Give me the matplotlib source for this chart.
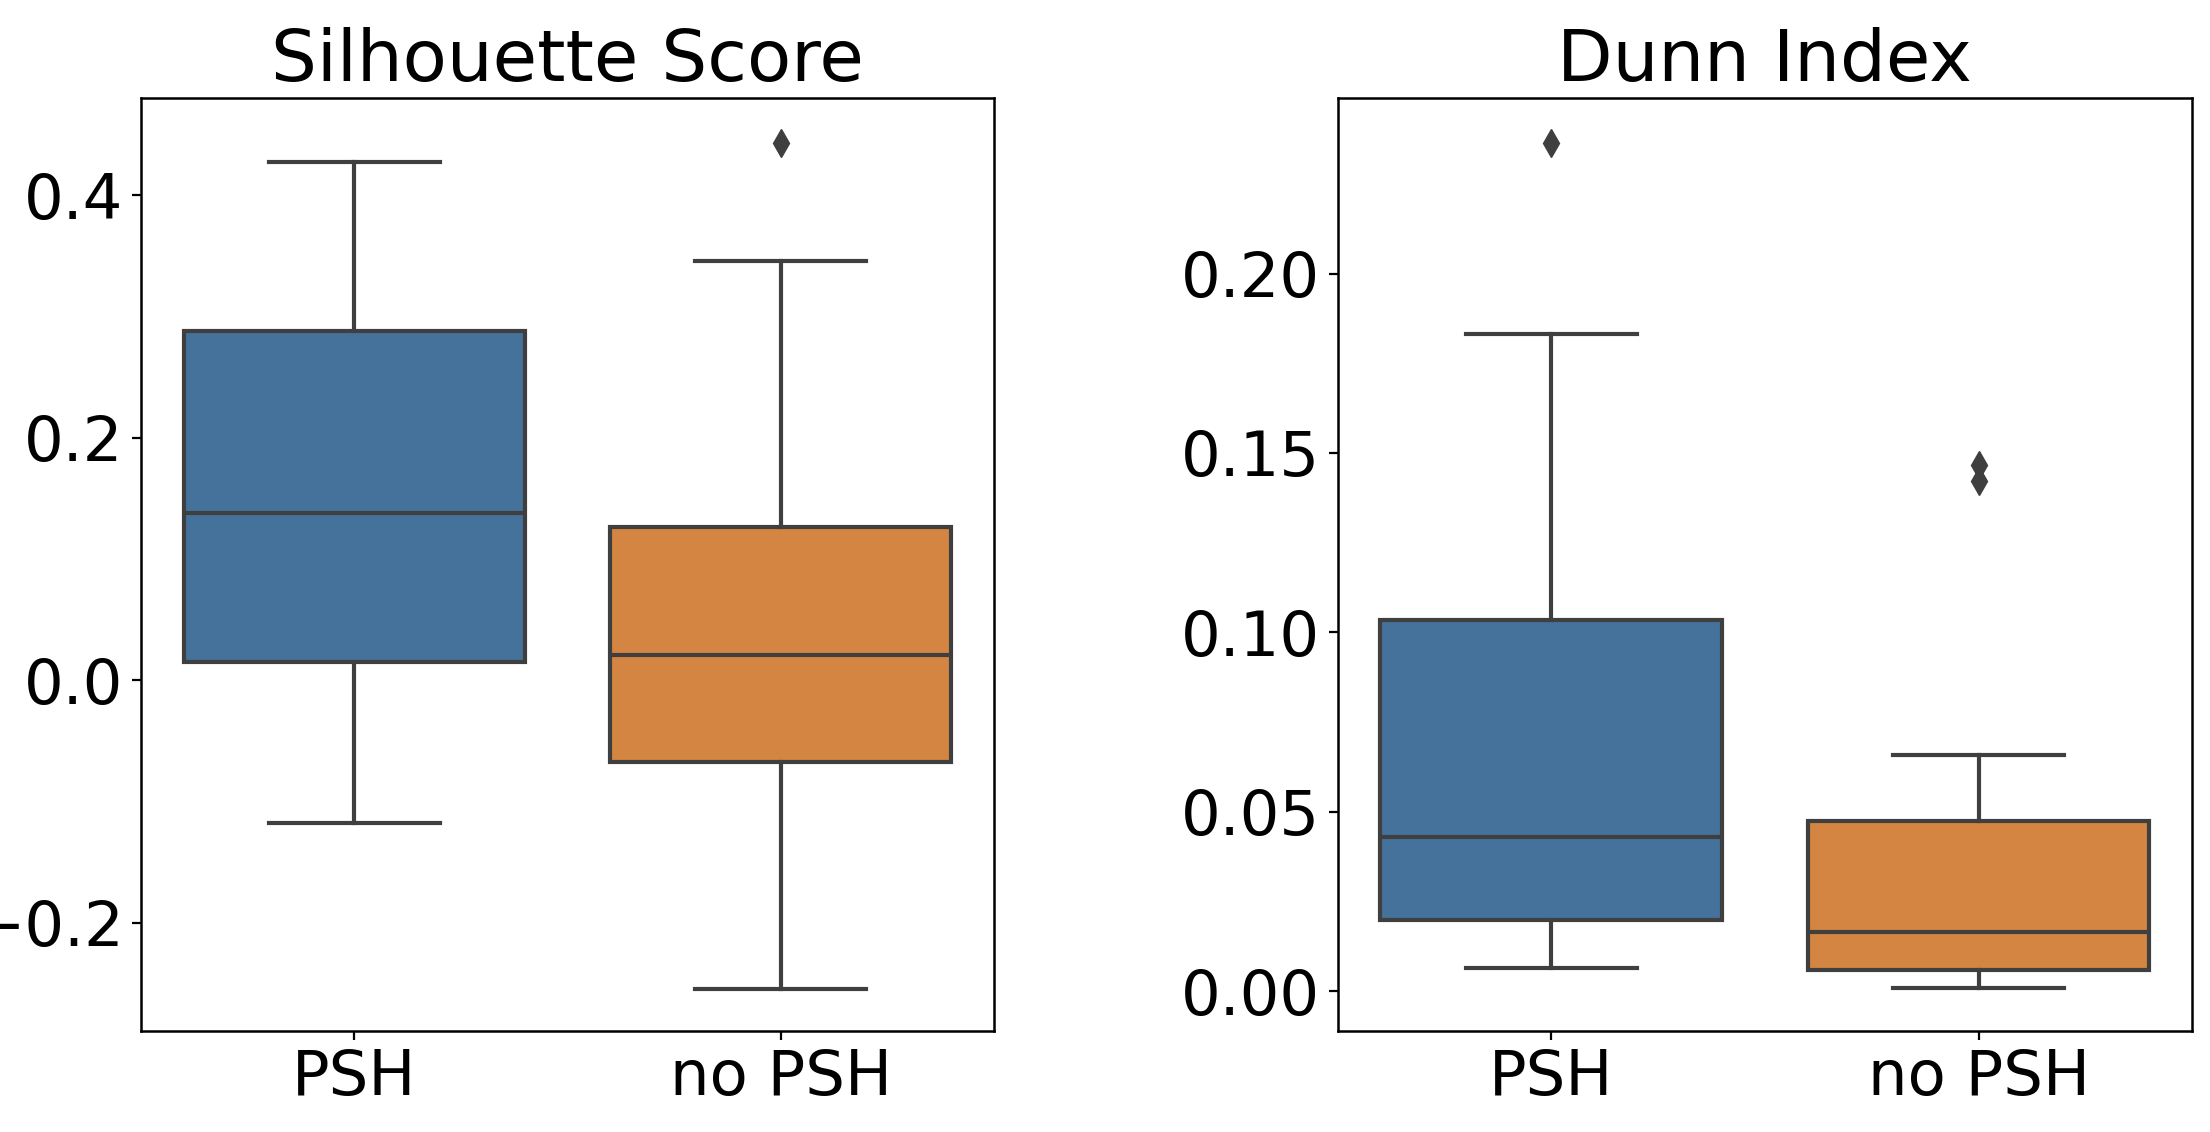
import matplotlib
matplotlib.use("Agg")
import matplotlib.pyplot as plt

# Категорії та статистики боксплотів
groups = ["PSH", "no PSH"]
colors = ["#45729a", "#d48541"]

# Silhouette Score: нижній вус, Q1, медіана, Q3, верхній вус, викиди
sil_whislo = [-0.118, -0.255]
sil_q1 = [0.0145, -0.068]
sil_med = [0.138, 0.021]
sil_q3 = [0.2876, 0.1266]
sil_whishi = [0.4275, 0.346]
sil_fliers = [[], [0.443]]

# Dunn Index
dunn_whislo = [0.0066, 0.0008]
dunn_q1 = [0.0198, 0.0060]
dunn_med = [0.043, 0.0164]
dunn_q3 = [0.1035, 0.0475]
dunn_whishi = [0.1831, 0.0659]
dunn_fliers = [[0.2364], [0.1465, 0.1422]]


def make_stats(lo, q1, med, q3, hi, fl):
    stats = []
    for i in range(len(groups)):
        stats.append({"whislo": lo[i], "q1": q1[i], "med": med[i],
                      "q3": q3[i], "whishi": hi[i], "fliers": fl[i]})
    return stats


def draw_box(ax, stats, title, ylim, yticks):
    line_col = "#3f3f3f"
    lw = 3.0
    b = ax.bxp(stats, positions=[0, 1], widths=0.8, patch_artist=True,
               showfliers=True,
               boxprops=dict(edgecolor=line_col, linewidth=lw),
               whiskerprops=dict(color=line_col, linewidth=lw),
               capprops=dict(color=line_col, linewidth=lw),
               medianprops=dict(color=line_col, linewidth=lw),
               flierprops=dict(marker="d", markerfacecolor=line_col,
                               markeredgecolor=line_col, markersize=14))
    for patch, c in zip(b["boxes"], colors):
        patch.set_facecolor(c)
    for cap in b["caps"]:
        x = cap.get_xdata()
        mid = (x[0] + x[1]) / 2
        cap.set_xdata([mid - 0.2, mid + 0.2])
    ax.set_xlim(-0.5, 1.5)
    ax.set_ylim(*ylim)
    ax.set_xticks([0, 1])
    ax.set_xticklabels(groups)
    ax.set_yticks(yticks)
    ax.tick_params(labelsize=45, length=6.5, width=1.6, pad=6)
    for s in ax.spines.values():
        s.set_linewidth(1.8)
    ax.set_title(title, fontsize=52, pad=12)


fig = plt.figure(figsize=(22.1, 11.32), dpi=100)
ax1 = fig.add_axes([0.0638, 0.0892, 0.386, 0.8242])
ax2 = fig.add_axes([0.6053, 0.0892, 0.3866, 0.8242])

draw_box(ax1, make_stats(sil_whislo, sil_q1, sil_med, sil_q3, sil_whishi, sil_fliers),
         "Silhouette Score", (-0.2895, 0.480), [-0.2, 0.0, 0.2, 0.4])
draw_box(ax2, make_stats(dunn_whislo, dunn_q1, dunn_med, dunn_q3, dunn_whishi, dunn_fliers),
         "Dunn Index", (-0.0111, 0.2489), [0.0, 0.05, 0.10, 0.15, 0.20])

fig.savefig("out.png", dpi=100)
